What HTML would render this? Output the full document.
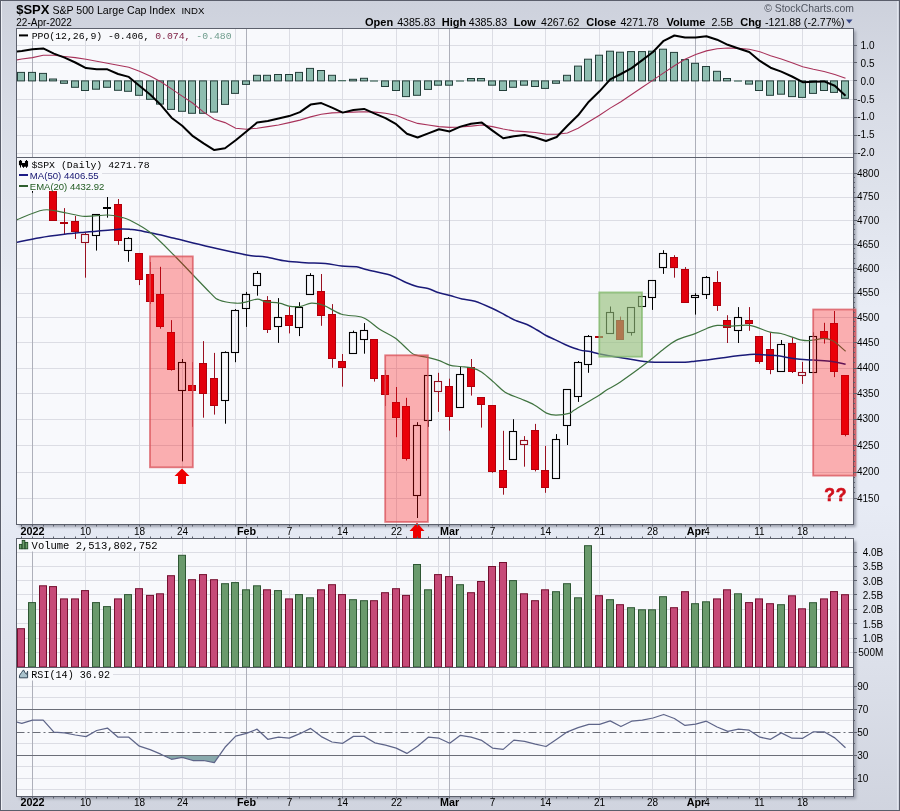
<!DOCTYPE html>
<html><head><meta charset="utf-8"><title>$SPX</title>
<style>html,body{margin:0;padding:0;background:#d6d9e3}svg{display:block;will-change:transform;font-family:"Liberation Sans",sans-serif}text{white-space:pre}</style>
</head><body>
<svg width="900" height="811" viewBox="0 0 900 811" shape-rendering="auto">
<defs>
<filter id="sh" x="-5%" y="-5%" width="110%" height="110%"><feGaussianBlur stdDeviation="1.6"/></filter>
<clipPath id="cppo"><rect x="17" y="29" width="836" height="128"/></clipPath>
<clipPath id="cpr"><rect x="17" y="158" width="836" height="366"/></clipPath>
<clipPath id="cvol"><rect x="17" y="539" width="836" height="128"/></clipPath>
<clipPath id="crsi"><rect x="17" y="668" width="836" height="128"/></clipPath>
<linearGradient id="bgg" x1="0" y1="0" x2="0" y2="1"><stop offset="0" stop-color="#cdd1dc"/><stop offset="0.13" stop-color="#d8dce6"/><stop offset="0.25" stop-color="#dfe3ec"/><stop offset="0.38" stop-color="#e8ecf5"/><stop offset="0.62" stop-color="#e7ebf5"/><stop offset="0.82" stop-color="#dce0ea"/><stop offset="1" stop-color="#d0d4df"/></linearGradient>
</defs>
<rect x="0" y="0" width="900" height="811" fill="url(#bgg)"/>
<rect x="0.5" y="0.5" width="899" height="810" fill="none" stroke="#5a5e6b" stroke-width="1"/>
<line x1="1.5" y1="1" x2="1.5" y2="810" stroke="#eef0f6" stroke-width="1"/>
<line x1="897.5" y1="1" x2="897.5" y2="810" stroke="#eef1f8" stroke-width="1" stroke-opacity="0.6"/>
<rect x="19.0" y="31.0" width="837.0" height="496.0" fill="#9da1ae" filter="url(#sh)"/>
<rect x="19.0" y="541.0" width="837.0" height="258.0" fill="#9da1ae" filter="url(#sh)"/>
<rect x="16.5" y="28.5" width="837.0" height="496.0" fill="#f8f9fc"/>
<rect x="16.5" y="538.5" width="837.0" height="258.0" fill="#f8f9fc"/>
<path d="M85.5 28.5V524.5M85.5 538.5V796.5M139.5 28.5V524.5M139.5 538.5V796.5M182.5 28.5V524.5M182.5 538.5V796.5M235.5 28.5V524.5M235.5 538.5V796.5M289.5 28.5V524.5M289.5 538.5V796.5M342.5 28.5V524.5M342.5 538.5V796.5M396.5 28.5V524.5M396.5 538.5V796.5M438.5 28.5V524.5M438.5 538.5V796.5M492.5 28.5V524.5M492.5 538.5V796.5M545.5 28.5V524.5M545.5 538.5V796.5M599.5 28.5V524.5M599.5 538.5V796.5M652.5 28.5V524.5M652.5 538.5V796.5M706.5 28.5V524.5M706.5 538.5V796.5M759.5 28.5V524.5M759.5 538.5V796.5M802.5 28.5V524.5M802.5 538.5V796.5M16.5 45.5H853.5M16.5 62.5H853.5M16.5 80.5H853.5M16.5 99.5H853.5M16.5 117.5H853.5M16.5 135.5H853.5M16.5 153.5H853.5M16.5 173.5H853.5M16.5 197.5H853.5M16.5 220.5H853.5M16.5 244.5H853.5M16.5 268.5H853.5M16.5 293.5H853.5M16.5 317.5H853.5M16.5 342.5H853.5M16.5 368.5H853.5M16.5 393.5H853.5M16.5 419.5H853.5M16.5 445.5H853.5M16.5 472.5H853.5M16.5 498.5H853.5M16.5 552.5H853.5M16.5 566.5H853.5M16.5 580.5H853.5M16.5 594.5H853.5M16.5 609.5H853.5M16.5 623.5H853.5M16.5 638.5H853.5M16.5 652.5H853.5M16.5 789.5H853.5M16.5 778.5H853.5M16.5 766.5H853.5M16.5 743.5H853.5M16.5 720.5H853.5M16.5 697.5H853.5M16.5 686.5H853.5M16.5 674.5H853.5" stroke="#dcdde4" stroke-width="1" fill="none"/>
<path d="M32.5 28.5V524.5M32.5 538.5V796.5M246.5 28.5V524.5M246.5 538.5V796.5M449.5 28.5V524.5M449.5 538.5V796.5M695.5 28.5V524.5M695.5 538.5V796.5" stroke="#aeb0ba" stroke-width="1" fill="none"/>
<g clip-path="url(#cppo)">
<g fill="#8ebdb0" stroke="#243f3a" stroke-width="1"><rect x="17.5" y="72.4" width="7" height="8.5"/><rect x="28.5" y="72.4" width="7" height="8.5"/><rect x="39.5" y="73.4" width="7" height="7.5"/><rect x="49.5" y="79.0" width="7" height="1.9"/><rect x="60.5" y="80.9" width="7" height="2.4"/><rect x="71.5" y="80.9" width="7" height="6.4"/><rect x="81.5" y="80.9" width="7" height="9.6"/><rect x="92.5" y="80.9" width="7" height="8.3"/><rect x="103.5" y="80.9" width="7" height="6.4"/><rect x="114.5" y="80.9" width="7" height="9.4"/><rect x="124.5" y="80.9" width="7" height="10.4"/><rect x="135.5" y="80.9" width="7" height="14.4"/><rect x="146.5" y="80.9" width="7" height="18.4"/><rect x="156.5" y="80.9" width="7" height="23.2"/><rect x="167.5" y="80.9" width="7" height="28.5"/><rect x="178.5" y="80.9" width="7" height="30.4"/><rect x="188.5" y="80.9" width="7" height="32.4"/><rect x="199.5" y="80.9" width="7" height="32.4"/><rect x="210.5" y="80.9" width="7" height="31.2"/><rect x="221.5" y="80.9" width="7" height="23.5"/><rect x="231.5" y="80.9" width="7" height="12.5"/><rect x="242.5" y="80.9" width="7" height="3.5"/><rect x="253.5" y="75.3" width="7" height="5.6"/><rect x="263.5" y="75.3" width="7" height="5.6"/><rect x="274.5" y="74.5" width="7" height="6.4"/><rect x="285.5" y="74.5" width="7" height="6.4"/><rect x="295.5" y="72.4" width="7" height="8.5"/><rect x="306.5" y="68.4" width="7" height="12.5"/><rect x="317.5" y="70.5" width="7" height="10.4"/><rect x="328.5" y="75.3" width="7" height="5.6"/><rect x="338" y="80.1" width="8" height="1.2" fill="#3e6458" stroke="none"/><rect x="349.5" y="79.3" width="7" height="1.6"/><rect x="360.5" y="78.3" width="7" height="2.6"/><rect x="370" y="80.4" width="8" height="1.2" fill="#3e6458" stroke="none"/><rect x="381.5" y="80.9" width="7" height="5.6"/><rect x="392.5" y="80.9" width="7" height="9.6"/><rect x="402.5" y="80.9" width="7" height="15.7"/><rect x="413.5" y="80.9" width="7" height="14.4"/><rect x="424.5" y="80.9" width="7" height="8.5"/><rect x="434.5" y="80.9" width="7" height="4.3"/><rect x="445.5" y="80.9" width="7" height="4.3"/><rect x="456" y="80.4" width="8" height="1.2" fill="#3e6458" stroke="none"/><rect x="467.5" y="78.5" width="7" height="2.4"/><rect x="477.5" y="78.5" width="7" height="2.4"/><rect x="488.5" y="80.9" width="7" height="4.3"/><rect x="499.5" y="80.9" width="7" height="9.6"/><rect x="509.5" y="80.9" width="7" height="6.4"/><rect x="520.5" y="80.9" width="7" height="4.3"/><rect x="531.5" y="80.9" width="7" height="5.6"/><rect x="541.5" y="80.9" width="7" height="7.5"/><rect x="552.5" y="80.9" width="7" height="2.4"/><rect x="563.5" y="75.3" width="7" height="5.6"/><rect x="574.5" y="66.1" width="7" height="14.8"/><rect x="584.5" y="59.2" width="7" height="21.7"/><rect x="595.5" y="55.2" width="7" height="25.7"/><rect x="606.5" y="51.2" width="7" height="29.7"/><rect x="616.5" y="52.2" width="7" height="28.7"/><rect x="627.5" y="51.6" width="7" height="29.3"/><rect x="638.5" y="51.6" width="7" height="29.3"/><rect x="648.5" y="51.2" width="7" height="29.7"/><rect x="659.5" y="49.2" width="7" height="31.7"/><rect x="670.5" y="52.4" width="7" height="28.5"/><rect x="681.5" y="59.6" width="7" height="21.3"/><rect x="691.5" y="63.3" width="7" height="17.6"/><rect x="702.5" y="66.5" width="7" height="14.4"/><rect x="713.5" y="71.3" width="7" height="9.6"/><rect x="723.5" y="78.5" width="7" height="2.4"/><rect x="734" y="80.4" width="8" height="1.2" fill="#3e6458" stroke="none"/><rect x="745.5" y="80.9" width="7" height="3.2"/><rect x="755.5" y="80.9" width="7" height="9.6"/><rect x="766.5" y="80.9" width="7" height="14.4"/><rect x="777.5" y="80.9" width="7" height="13.3"/><rect x="788.5" y="80.9" width="7" height="15.7"/><rect x="798.5" y="80.9" width="7" height="16.5"/><rect x="809.5" y="80.9" width="7" height="12.5"/><rect x="820.5" y="80.9" width="7" height="9.6"/><rect x="830.5" y="80.9" width="7" height="11.5"/><rect x="841.5" y="80.9" width="7" height="17.4"/></g>
<polyline fill="none" stroke="#a8325a" stroke-width="1.1" points="16.0,60.0 21.8,59.0 32.5,57.6 43.2,55.2 53.9,55.2 64.6,56.5 75.3,57.6 86.0,59.3 96.7,61.2 107.4,63.3 118.1,65.2 128.8,67.3 139.4,71.3 150.1,76.1 160.8,81.7 171.5,88.9 182.2,96.1 192.9,103.3 203.6,112.1 214.3,119.3 225.0,122.6 235.7,128.2 246.4,129.3 257.1,128.2 267.8,126.6 278.5,125.0 289.2,122.6 299.9,120.1 310.6,116.9 321.3,114.3 332.0,112.9 342.7,112.5 353.4,112.1 364.1,111.8 374.8,112.1 385.5,113.3 396.2,115.3 406.9,119.7 417.6,123.4 428.3,125.0 439.0,126.6 449.7,127.4 460.4,127.0 471.1,126.1 481.8,125.0 492.5,126.6 503.2,129.0 513.9,130.9 524.6,131.6 535.3,132.5 546.0,134.1 556.7,134.3 567.4,133.0 578.1,128.2 588.8,121.8 599.5,115.3 610.2,108.1 620.9,101.7 631.6,94.5 642.3,87.3 653.0,80.1 663.7,72.9 674.4,65.7 685.0,59.3 695.7,54.4 706.4,50.9 717.1,48.8 727.8,48.0 738.5,48.4 749.2,49.3 759.9,51.7 770.6,55.7 781.3,58.9 792.0,62.7 802.7,66.7 813.4,69.3 824.1,71.5 834.8,74.5 845.5,78.2"/>
<polyline fill="none" stroke="#000" stroke-width="2" stroke-linejoin="round" points="16.0,51.5 21.8,51.0 32.5,49.3 43.2,48.4 53.9,53.6 64.6,57.6 75.3,62.5 86.0,68.1 96.7,69.2 107.4,69.3 118.1,74.0 128.8,76.9 139.4,85.7 150.1,94.5 160.8,104.9 171.5,117.7 182.2,125.8 192.9,136.2 203.6,143.4 214.3,150.1 225.0,148.2 235.7,140.2 246.4,131.4 257.1,122.6 267.8,121.0 278.5,118.5 289.2,116.1 299.9,112.1 310.6,104.6 321.3,103.1 332.0,107.6 342.7,112.6 353.4,110.0 364.1,108.9 374.8,113.7 385.5,118.2 396.2,124.2 406.9,133.8 417.6,137.5 428.3,133.4 439.0,129.3 449.7,131.4 460.4,126.6 471.1,123.7 481.8,122.6 492.5,130.6 503.2,138.3 513.9,136.2 524.6,135.0 535.3,137.5 546.0,141.0 556.7,137.0 567.4,125.8 578.1,115.3 588.8,101.7 599.5,91.3 610.2,79.3 620.9,74.0 631.6,68.1 642.3,60.1 653.0,52.0 663.7,40.8 674.4,35.5 685.0,37.6 695.7,37.6 706.4,36.3 717.1,39.7 727.8,44.8 738.5,48.5 749.2,52.0 759.9,60.9 770.6,67.7 781.3,71.6 792.0,76.5 802.7,82.2 813.4,81.7 824.1,81.4 834.8,85.7 845.5,95.8"/>
</g>
<g clip-path="url(#cpr)">
<path d="M32.5 184V192.8" stroke="#000" stroke-width="1"/><rect x="28.5" y="174.5" width="7" height="9" fill="none" stroke="#000" stroke-width="1.1"/><path d="M43.5 164.4V171M43.5 176V185.0" stroke="#9a1020" stroke-width="1"/><rect x="39.5" y="171.5" width="7" height="4" fill="#e2000c" stroke="#b0000c" stroke-width="1"/><path d="M53.5 174.1V178" stroke="#9a1020" stroke-width="1"/><rect x="49.5" y="178.5" width="7" height="42" fill="#e2000c" stroke="#b0000c" stroke-width="1"/><path d="M64.5 208.1V222M64.5 224V234.3" stroke="#9a1020" stroke-width="1"/><rect x="60.5" y="222.5" width="7" height="1" fill="#e2000c" stroke="#b0000c" stroke-width="1"/><path d="M75.5 216.0V221M75.5 232V239.0" stroke="#9a1020" stroke-width="1"/><rect x="71.5" y="221.5" width="7" height="10" fill="#e2000c" stroke="#b0000c" stroke-width="1"/><path d="M85.5 233.0V234M85.5 243V277.7" stroke="#9a1020" stroke-width="1"/><rect x="81.5" y="234.5" width="7" height="8" fill="none" stroke="#941020" stroke-width="1.1"/><path d="M96.5 236V250.6" stroke="#000" stroke-width="1"/><rect x="92.5" y="214.5" width="7" height="21" fill="none" stroke="#000" stroke-width="1.1"/><path d="M107.5 197.0V207M107.5 209V217.7" stroke="#000" stroke-width="1"/><rect x="103.5" y="207.5" width="7" height="1" fill="#000" stroke="#000" stroke-width="1"/><path d="M118.5 199.0V204M118.5 241V244.9" stroke="#9a1020" stroke-width="1"/><rect x="114.5" y="204.5" width="7" height="36" fill="#e2000c" stroke="#b0000c" stroke-width="1"/><path d="M128.5 237.0V238M128.5 251V261.8" stroke="#000" stroke-width="1"/><rect x="124.5" y="238.5" width="7" height="12" fill="none" stroke="#000" stroke-width="1.1"/><path d="M139.5 280V285.1" stroke="#9a1020" stroke-width="1"/><rect x="135.5" y="253.5" width="7" height="26" fill="#e2000c" stroke="#b0000c" stroke-width="1"/><path d="M150.5 262.0V274M150.5 302V304.0" stroke="#9a1020" stroke-width="1"/><rect x="146.5" y="274.5" width="7" height="27" fill="#e2000c" stroke="#b0000c" stroke-width="1"/><path d="M160.5 266.8V294M160.5 327V328.7" stroke="#9a1020" stroke-width="1"/><rect x="156.5" y="294.5" width="7" height="32" fill="#e2000c" stroke="#b0000c" stroke-width="1"/><path d="M171.5 320.1V332M171.5 370V370.6" stroke="#9a1020" stroke-width="1"/><rect x="167.5" y="332.5" width="7" height="37" fill="#e2000c" stroke="#b0000c" stroke-width="1"/><path d="M182.5 359.0V362M182.5 391V461.4" stroke="#000" stroke-width="1"/><rect x="178.5" y="362.5" width="7" height="28" fill="none" stroke="#000" stroke-width="1.1"/><path d="M192.5 362.1V385M192.5 391V426.8" stroke="#9a1020" stroke-width="1"/><rect x="188.5" y="385.5" width="7" height="5" fill="#e2000c" stroke="#b0000c" stroke-width="1"/><path d="M203.5 341.1V363M203.5 394V417.7" stroke="#9a1020" stroke-width="1"/><rect x="199.5" y="363.5" width="7" height="30" fill="#e2000c" stroke="#b0000c" stroke-width="1"/><path d="M214.5 352.9V378M214.5 406V414.6" stroke="#9a1020" stroke-width="1"/><rect x="210.5" y="378.5" width="7" height="27" fill="#e2000c" stroke="#b0000c" stroke-width="1"/><path d="M225.5 351.3V352M225.5 401V423.7" stroke="#000" stroke-width="1"/><rect x="221.5" y="352.5" width="7" height="48" fill="none" stroke="#000" stroke-width="1.1"/><path d="M235.5 309.0V310M235.5 353V362.2" stroke="#000" stroke-width="1"/><rect x="231.5" y="310.5" width="7" height="42" fill="none" stroke="#000" stroke-width="1.1"/><path d="M246.5 291.9V294M246.5 309V326.9" stroke="#000" stroke-width="1"/><rect x="242.5" y="294.5" width="7" height="14" fill="none" stroke="#000" stroke-width="1.1"/><path d="M257.5 271.0V273M257.5 286V295.7" stroke="#000" stroke-width="1"/><rect x="253.5" y="273.5" width="7" height="12" fill="none" stroke="#000" stroke-width="1.1"/><path d="M267.5 296.1V300M267.5 330V333.0" stroke="#9a1020" stroke-width="1"/><rect x="263.5" y="300.5" width="7" height="29" fill="#e2000c" stroke="#b0000c" stroke-width="1"/><path d="M278.5 298.1V317M278.5 327V342.9" stroke="#000" stroke-width="1"/><rect x="274.5" y="317.5" width="7" height="9" fill="none" stroke="#000" stroke-width="1.1"/><path d="M289.5 306.6V315M289.5 326V333.4" stroke="#9a1020" stroke-width="1"/><rect x="285.5" y="315.5" width="7" height="10" fill="#e2000c" stroke="#b0000c" stroke-width="1"/><path d="M299.5 302.2V307M299.5 328V336.1" stroke="#000" stroke-width="1"/><rect x="295.5" y="307.5" width="7" height="20" fill="none" stroke="#000" stroke-width="1.1"/><path d="M310.5 273.2V275" stroke="#000" stroke-width="1"/><rect x="306.5" y="275.5" width="7" height="19" fill="none" stroke="#000" stroke-width="1.1"/><path d="M321.5 274.0V291M321.5 316V325.8" stroke="#9a1020" stroke-width="1"/><rect x="317.5" y="291.5" width="7" height="24" fill="#e2000c" stroke="#b0000c" stroke-width="1"/><path d="M332.5 304.1V314M332.5 359V367.8" stroke="#9a1020" stroke-width="1"/><rect x="328.5" y="314.5" width="7" height="44" fill="#e2000c" stroke="#b0000c" stroke-width="1"/><path d="M342.5 354.0V361M342.5 368V386.7" stroke="#9a1020" stroke-width="1"/><rect x="338.5" y="361.5" width="7" height="6" fill="#e2000c" stroke="#b0000c" stroke-width="1"/><path d="M353.5 330.6V332" stroke="#000" stroke-width="1"/><rect x="349.5" y="332.5" width="7" height="21" fill="none" stroke="#000" stroke-width="1.1"/><path d="M364.5 323.1V330M364.5 340V353.7" stroke="#000" stroke-width="1"/><rect x="360.5" y="330.5" width="7" height="9" fill="none" stroke="#000" stroke-width="1.1"/><path d="M374.5 379V381.6" stroke="#9a1020" stroke-width="1"/><rect x="370.5" y="339.5" width="7" height="39" fill="#e2000c" stroke="#b0000c" stroke-width="1"/><path d="M385.5 370.0V375M385.5 395V406.0" stroke="#9a1020" stroke-width="1"/><rect x="381.5" y="375.5" width="7" height="19" fill="#e2000c" stroke="#b0000c" stroke-width="1"/><path d="M396.5 387.0V402M396.5 418V437.2" stroke="#9a1020" stroke-width="1"/><rect x="392.5" y="402.5" width="7" height="15" fill="#e2000c" stroke="#b0000c" stroke-width="1"/><path d="M406.5 397.8V406M406.5 459V460.5" stroke="#9a1020" stroke-width="1"/><rect x="402.5" y="406.5" width="7" height="52" fill="#e2000c" stroke="#b0000c" stroke-width="1"/><path d="M417.5 422.2V425M417.5 496V518.0" stroke="#000" stroke-width="1"/><rect x="413.5" y="425.5" width="7" height="70" fill="none" stroke="#000" stroke-width="1.1"/><path d="M428.5 421V426.9" stroke="#000" stroke-width="1"/><rect x="424.5" y="375.5" width="7" height="45" fill="none" stroke="#000" stroke-width="1.1"/><path d="M438.5 372.8V381M438.5 392V411.9" stroke="#9a1020" stroke-width="1"/><rect x="434.5" y="381.5" width="7" height="10" fill="none" stroke="#941020" stroke-width="1.1"/><path d="M449.5 378.7V386M449.5 417V430.6" stroke="#9a1020" stroke-width="1"/><rect x="445.5" y="386.5" width="7" height="30" fill="#e2000c" stroke="#b0000c" stroke-width="1"/><path d="M460.5 366.5V374" stroke="#000" stroke-width="1"/><rect x="456.5" y="374.5" width="7" height="33" fill="none" stroke="#000" stroke-width="1.1"/><path d="M471.5 359.0V367M471.5 387V395.6" stroke="#9a1020" stroke-width="1"/><rect x="467.5" y="367.5" width="7" height="19" fill="#e2000c" stroke="#b0000c" stroke-width="1"/><path d="M481.5 405V427.6" stroke="#9a1020" stroke-width="1"/><rect x="477.5" y="397.5" width="7" height="7" fill="#e2000c" stroke="#b0000c" stroke-width="1"/><path d="M492.5 472V472.8" stroke="#9a1020" stroke-width="1"/><rect x="488.5" y="405.5" width="7" height="66" fill="#e2000c" stroke="#b0000c" stroke-width="1"/><path d="M503.5 430.8V470M503.5 488V494.7" stroke="#9a1020" stroke-width="1"/><rect x="499.5" y="470.5" width="7" height="17" fill="#e2000c" stroke="#b0000c" stroke-width="1"/><path d="M513.5 419.2V431" stroke="#000" stroke-width="1"/><rect x="509.5" y="431.5" width="7" height="28" fill="none" stroke="#000" stroke-width="1.1"/><path d="M524.5 436.1V440M524.5 445V466.7" stroke="#9a1020" stroke-width="1"/><rect x="520.5" y="440.5" width="7" height="4" fill="none" stroke="#941020" stroke-width="1.1"/><path d="M535.5 423.9V430M535.5 470V471.4" stroke="#9a1020" stroke-width="1"/><rect x="531.5" y="430.5" width="7" height="39" fill="#e2000c" stroke="#b0000c" stroke-width="1"/><path d="M545.5 445.9V470M545.5 488V492.8" stroke="#9a1020" stroke-width="1"/><rect x="541.5" y="470.5" width="7" height="17" fill="#e2000c" stroke="#b0000c" stroke-width="1"/><path d="M556.5 434.1V439" stroke="#000" stroke-width="1"/><rect x="552.5" y="439.5" width="7" height="39" fill="none" stroke="#000" stroke-width="1.1"/><path d="M567.5 426V445.0" stroke="#000" stroke-width="1"/><rect x="563.5" y="389.5" width="7" height="36" fill="none" stroke="#000" stroke-width="1.1"/><path d="M578.5 361.0V362M578.5 397V401.9" stroke="#000" stroke-width="1"/><rect x="574.5" y="362.5" width="7" height="34" fill="none" stroke="#000" stroke-width="1.1"/><path d="M588.5 335.0V336M588.5 365V372.8" stroke="#000" stroke-width="1"/><rect x="584.5" y="336.5" width="7" height="28" fill="none" stroke="#000" stroke-width="1.1"/><rect x="595.5" y="336.5" width="7" height="1" fill="#e2000c" stroke="#b0000c" stroke-width="1"/><path d="M610.5 306.5V312" stroke="#000" stroke-width="1"/><rect x="606.5" y="312.5" width="7" height="21" fill="none" stroke="#000" stroke-width="1.1"/><path d="M620.5 316.6V320" stroke="#9a1020" stroke-width="1"/><rect x="616.5" y="320.5" width="7" height="19" fill="#e2000c" stroke="#b0000c" stroke-width="1"/><path d="M631.5 333V335.6" stroke="#000" stroke-width="1"/><rect x="627.5" y="307.5" width="7" height="25" fill="none" stroke="#000" stroke-width="1.1"/><rect x="638.5" y="296.5" width="7" height="10" fill="none" stroke="#000" stroke-width="1.1"/><path d="M652.5 298V309.9" stroke="#000" stroke-width="1"/><rect x="648.5" y="280.5" width="7" height="17" fill="none" stroke="#000" stroke-width="1.1"/><path d="M663.5 250.2V253M663.5 268V273.9" stroke="#000" stroke-width="1"/><rect x="659.5" y="253.5" width="7" height="14" fill="none" stroke="#000" stroke-width="1.1"/><path d="M674.5 255.2V257M674.5 268V277.7" stroke="#9a1020" stroke-width="1"/><rect x="670.5" y="257.5" width="7" height="10" fill="#e2000c" stroke="#b0000c" stroke-width="1"/><path d="M685.5 267.1V269" stroke="#9a1020" stroke-width="1"/><rect x="681.5" y="269.5" width="7" height="33" fill="#e2000c" stroke="#b0000c" stroke-width="1"/><path d="M695.5 293.2V295M695.5 298V314.6" stroke="#000" stroke-width="1"/><rect x="691.5" y="295.5" width="7" height="2" fill="none" stroke="#000" stroke-width="1.1"/><path d="M706.5 276.0V277M706.5 295V299.0" stroke="#000" stroke-width="1"/><rect x="702.5" y="277.5" width="7" height="17" fill="none" stroke="#000" stroke-width="1.1"/><path d="M717.5 271.1V282M717.5 306V310.9" stroke="#9a1020" stroke-width="1"/><rect x="713.5" y="282.5" width="7" height="23" fill="#e2000c" stroke="#b0000c" stroke-width="1"/><path d="M727.5 315.2V320M727.5 328V343.0" stroke="#9a1020" stroke-width="1"/><rect x="723.5" y="320.5" width="7" height="7" fill="#e2000c" stroke="#b0000c" stroke-width="1"/><path d="M738.5 307.1V317M738.5 331V343.0" stroke="#000" stroke-width="1"/><rect x="734.5" y="317.5" width="7" height="13" fill="none" stroke="#000" stroke-width="1.1"/><path d="M749.5 307.1V320M749.5 324V330.8" stroke="#9a1020" stroke-width="1"/><rect x="745.5" y="320.5" width="7" height="3" fill="#e2000c" stroke="#b0000c" stroke-width="1"/><path d="M759.5 362V363.8" stroke="#9a1020" stroke-width="1"/><rect x="755.5" y="336.5" width="7" height="25" fill="#e2000c" stroke="#b0000c" stroke-width="1"/><path d="M770.5 332.6V349M770.5 370V374.2" stroke="#9a1020" stroke-width="1"/><rect x="766.5" y="349.5" width="7" height="20" fill="#e2000c" stroke="#b0000c" stroke-width="1"/><path d="M781.5 340.0V344" stroke="#000" stroke-width="1"/><rect x="777.5" y="344.5" width="7" height="27" fill="none" stroke="#000" stroke-width="1.1"/><path d="M792.5 337.7V343M792.5 372V373.0" stroke="#9a1020" stroke-width="1"/><rect x="788.5" y="343.5" width="7" height="28" fill="#e2000c" stroke="#b0000c" stroke-width="1"/><path d="M802.5 361.9V372M802.5 376V383.9" stroke="#9a1020" stroke-width="1"/><rect x="798.5" y="372.5" width="7" height="3" fill="none" stroke="#941020" stroke-width="1.1"/><path d="M813.5 332.3V336" stroke="#000" stroke-width="1"/><rect x="809.5" y="336.5" width="7" height="36" fill="none" stroke="#000" stroke-width="1.1"/><path d="M824.5 322.8V331M824.5 339V343.6" stroke="#9a1020" stroke-width="1"/><rect x="820.5" y="331.5" width="7" height="7" fill="#e2000c" stroke="#b0000c" stroke-width="1"/><path d="M834.5 311.0V323M834.5 372V377.1" stroke="#9a1020" stroke-width="1"/><rect x="830.5" y="323.5" width="7" height="48" fill="#e2000c" stroke="#b0000c" stroke-width="1"/><path d="M845.5 435V436.3" stroke="#9a1020" stroke-width="1"/><rect x="841.5" y="375.5" width="7" height="59" fill="#e2000c" stroke="#b0000c" stroke-width="1"/>
<path fill="none" stroke="#1a1a78" stroke-width="1.5" d="M16.6 242.4C20.5 241.6 32.0 239.0 40.0 237.7C48.0 236.3 56.9 235.2 64.4 234.3C71.9 233.4 77.6 232.9 84.8 232.2C92.0 231.5 101.7 230.7 107.8 230.2C113.9 229.7 117.7 229.2 121.4 229.1C125.1 229.0 127.4 229.2 130.1 229.4C132.8 229.6 133.6 229.5 137.6 230.2C141.6 230.9 147.8 232.2 153.9 233.6C160.0 234.9 165.0 236.1 174.3 238.3C183.7 240.6 197.9 244.3 210.0 247.1C222.1 249.9 237.4 253.3 246.7 255.0C256.0 256.6 259.1 256.0 265.7 257.0C272.2 258.0 279.4 260.2 286.0 261.1C292.6 262.1 298.4 262.3 305.0 262.7C311.6 263.1 319.3 262.8 325.4 263.4C331.5 264.0 336.4 265.5 341.6 266.1C346.8 266.7 352.5 266.2 356.6 266.8C360.7 267.4 360.4 268.1 366.0 269.5C371.6 270.9 383.3 272.8 390.0 275.0C396.7 277.2 401.5 280.6 406.0 282.5C410.5 284.4 413.3 285.5 417.0 286.5C420.7 287.5 424.5 287.5 428.0 288.5C431.5 289.5 434.3 291.3 438.0 292.5C441.7 293.7 446.0 294.4 450.0 295.5C454.0 296.6 457.8 298.1 462.0 299.0C466.2 299.9 469.9 299.6 475.0 301.2C480.1 302.8 487.5 306.2 492.5 308.5C497.5 310.8 500.9 312.9 505.0 315.0C509.1 317.1 513.3 319.4 517.0 321.0C520.7 322.6 523.7 323.0 527.0 324.5C530.3 326.0 533.8 328.2 537.0 330.0C540.2 331.8 543.0 333.9 546.0 335.5C549.0 337.1 551.8 338.1 555.0 339.6C558.2 341.1 560.9 342.8 565.0 344.5C569.1 346.2 575.2 348.7 579.4 349.9C583.6 351.1 586.6 350.9 590.0 351.6C593.4 352.3 594.3 352.8 599.8 353.9C605.3 355.0 616.9 357.0 622.8 358.0C628.7 359.0 630.5 359.3 635.0 360.0C639.5 360.7 645.0 361.6 650.0 362.0C655.0 362.4 659.2 362.3 665.0 362.3C670.8 362.3 680.0 362.4 685.0 362.2C690.0 362.0 691.3 361.6 695.0 361.2C698.7 360.8 701.9 360.6 707.0 360.0C712.1 359.4 718.3 358.3 725.4 357.4C732.5 356.5 744.1 355.1 749.8 354.6C755.4 354.1 755.0 354.4 759.3 354.6C763.6 354.8 769.6 354.9 775.6 355.6C781.6 356.3 789.0 357.9 795.2 358.7C801.4 359.4 806.9 359.6 813.0 360.1C819.1 360.6 826.6 360.8 832.0 361.5C837.4 362.2 843.3 363.8 845.6 364.2"/>
<path fill="none" stroke="#3f733f" stroke-width="1.2" d="M16.6 219.9C21.1 218.2 35.4 211.2 43.4 210.0C51.4 208.8 57.5 211.5 64.4 212.6C71.3 213.7 77.6 216.0 84.8 216.4C92.0 216.8 101.4 214.8 107.5 215.0C113.6 215.2 117.7 216.4 121.4 217.3C125.2 218.2 125.2 217.8 130.0 220.3C134.8 222.8 142.6 226.4 150.0 232.3C157.4 238.2 164.3 245.4 174.3 255.5C184.3 265.6 202.6 285.2 210.0 292.6C217.4 300.0 214.7 298.2 219.0 300.0C223.3 301.8 231.3 302.9 235.9 303.2C240.5 303.5 243.1 302.5 246.7 301.8C250.3 301.1 254.4 299.1 257.6 299.1C260.8 299.1 262.1 301.1 265.7 301.8C269.3 302.5 275.2 302.4 279.3 303.2C283.4 303.9 286.5 305.8 290.1 306.3C293.7 306.8 297.4 306.8 301.0 306.3C304.6 305.8 307.7 303.2 311.5 303.1C315.3 303.0 319.0 303.6 324.0 305.5C329.0 307.4 335.1 312.3 341.6 314.3C348.2 316.3 357.0 315.2 363.3 317.7C369.6 320.2 374.3 325.8 379.6 329.2C384.9 332.6 390.2 334.5 395.1 338.0C400.0 341.5 405.4 347.6 408.7 350.4C412.0 353.2 411.7 353.7 415.0 354.9C418.3 356.1 424.7 356.7 428.6 357.6C432.6 358.5 435.2 359.1 438.7 360.4C442.2 361.6 446.0 364.1 449.6 365.1C453.2 366.1 456.8 366.1 460.5 366.5C464.2 366.9 468.5 366.9 472.0 367.8C475.5 368.7 477.9 369.5 481.5 371.9C485.1 374.3 489.8 378.7 493.7 382.1C497.6 385.5 500.6 389.4 505.1 392.2C509.6 395.0 515.8 396.7 520.7 398.8C525.6 400.9 530.0 402.5 534.3 404.9C538.6 407.3 542.9 411.4 546.5 413.1C550.1 414.8 552.1 415.1 556.0 415.1C559.9 415.1 567.0 414.0 570.1 413.1C573.2 412.2 569.6 412.9 574.4 410.0C579.2 407.1 593.4 398.8 598.8 395.5C604.2 392.2 603.1 392.2 606.6 390.0C610.1 387.8 613.6 386.5 620.0 382.2C626.4 377.9 638.0 369.5 645.1 364.1C652.2 358.7 657.4 353.9 662.6 350.0C667.8 346.1 670.7 343.1 676.1 340.4C681.5 337.7 689.9 335.6 695.1 333.6C700.3 331.6 703.6 329.6 707.3 328.2C711.0 326.8 713.1 325.8 717.2 325.4C721.3 325.0 726.7 326.1 732.1 326.1C737.5 326.1 743.5 324.4 749.8 325.4C756.1 326.4 764.9 330.8 770.1 332.2C775.3 333.6 775.7 332.2 781.0 333.5C786.3 334.8 796.8 339.1 802.1 340.2C807.4 341.3 809.4 340.5 813.0 340.2C816.6 339.9 820.4 338.2 823.8 338.4C827.2 338.5 829.7 339.0 833.3 341.1C836.9 343.2 843.5 349.6 845.6 351.3"/>
</g>
<path d="M182.0 468.5L189.5 476.0H186.0V484.0H178.0V476.0H174.5Z" fill="#ee0000"/>
<path d="M417.0 522.8L424.5 531.0H421.0V538.5H413.0V531.0H409.5Z" fill="#ee0000"/>
<text x="824.3" y="500.8" font-family="Liberation Sans" font-weight="bold" font-size="17.5" fill="#d0101c" letter-spacing="0.7" stroke="#d0101c" stroke-width="0.6">??</text>
<g clip-path="url(#cvol)">
<g fill="#c64a78" stroke="#74102f" stroke-width="1"><rect x="17.5" y="628.7" width="7" height="38.3"/><rect x="39.5" y="585.8" width="7" height="81.2"/><rect x="49.5" y="586.6" width="7" height="80.4"/><rect x="60.5" y="598.9" width="7" height="68.1"/><rect x="71.5" y="598.9" width="7" height="68.1"/><rect x="81.5" y="590.6" width="7" height="76.4"/><rect x="114.5" y="598.9" width="7" height="68.1"/><rect x="135.5" y="588.7" width="7" height="78.3"/><rect x="146.5" y="595.4" width="7" height="71.6"/><rect x="156.5" y="593.8" width="7" height="73.2"/><rect x="167.5" y="575.7" width="7" height="91.3"/><rect x="188.5" y="579.7" width="7" height="87.3"/><rect x="199.5" y="574.6" width="7" height="92.4"/><rect x="210.5" y="579.7" width="7" height="87.3"/><rect x="263.5" y="589.8" width="7" height="77.2"/><rect x="285.5" y="598.9" width="7" height="68.1"/><rect x="317.5" y="589.8" width="7" height="77.2"/><rect x="328.5" y="584.7" width="7" height="82.3"/><rect x="338.5" y="594.6" width="7" height="72.4"/><rect x="370.5" y="600.7" width="7" height="66.3"/><rect x="381.5" y="592.7" width="7" height="74.3"/><rect x="392.5" y="588.7" width="7" height="78.3"/><rect x="402.5" y="595.4" width="7" height="71.6"/><rect x="434.5" y="574.6" width="7" height="92.4"/><rect x="445.5" y="576.6" width="7" height="90.4"/><rect x="467.5" y="592.7" width="7" height="74.3"/><rect x="477.5" y="581.5" width="7" height="85.5"/><rect x="488.5" y="566.5" width="7" height="100.5"/><rect x="499.5" y="562.5" width="7" height="104.5"/><rect x="520.5" y="593.8" width="7" height="73.2"/><rect x="531.5" y="600.7" width="7" height="66.3"/><rect x="541.5" y="589.8" width="7" height="77.2"/><rect x="595.5" y="595.7" width="7" height="71.3"/><rect x="616.5" y="604.7" width="7" height="62.3"/><rect x="670.5" y="607.7" width="7" height="59.3"/><rect x="681.5" y="591.7" width="7" height="75.3"/><rect x="713.5" y="598.9" width="7" height="68.1"/><rect x="723.5" y="589.8" width="7" height="77.2"/><rect x="745.5" y="602.6" width="7" height="64.4"/><rect x="755.5" y="598.9" width="7" height="68.1"/><rect x="766.5" y="603.7" width="7" height="63.3"/><rect x="788.5" y="595.8" width="7" height="71.2"/><rect x="798.5" y="608.8" width="7" height="58.2"/><rect x="820.5" y="598.9" width="7" height="68.1"/><rect x="830.5" y="591.6" width="7" height="75.4"/><rect x="841.5" y="594.7" width="7" height="72.3"/></g>
<g fill="#6a9a6c" stroke="#2e5733" stroke-width="1"><rect x="28.5" y="602.6" width="7" height="64.4"/><rect x="92.5" y="602.6" width="7" height="64.4"/><rect x="103.5" y="606.6" width="7" height="60.4"/><rect x="124.5" y="594.6" width="7" height="72.4"/><rect x="178.5" y="555.3" width="7" height="111.7"/><rect x="221.5" y="583.7" width="7" height="83.3"/><rect x="231.5" y="582.6" width="7" height="84.4"/><rect x="242.5" y="589.8" width="7" height="77.2"/><rect x="253.5" y="585.8" width="7" height="81.2"/><rect x="274.5" y="590.6" width="7" height="76.4"/><rect x="295.5" y="594.6" width="7" height="72.4"/><rect x="306.5" y="597.8" width="7" height="69.2"/><rect x="349.5" y="599.7" width="7" height="67.3"/><rect x="360.5" y="600.7" width="7" height="66.3"/><rect x="413.5" y="564.5" width="7" height="102.5"/><rect x="424.5" y="589.8" width="7" height="77.2"/><rect x="456.5" y="584.7" width="7" height="82.3"/><rect x="509.5" y="580.6" width="7" height="86.4"/><rect x="552.5" y="591.7" width="7" height="75.3"/><rect x="563.5" y="583.7" width="7" height="83.3"/><rect x="574.5" y="597.8" width="7" height="69.2"/><rect x="584.5" y="545.7" width="7" height="121.3"/><rect x="606.5" y="599.7" width="7" height="67.3"/><rect x="627.5" y="607.7" width="7" height="59.3"/><rect x="638.5" y="609.8" width="7" height="57.2"/><rect x="648.5" y="609.8" width="7" height="57.2"/><rect x="659.5" y="596.7" width="7" height="70.3"/><rect x="691.5" y="603.7" width="7" height="63.3"/><rect x="702.5" y="601.8" width="7" height="65.2"/><rect x="734.5" y="593.8" width="7" height="73.2"/><rect x="777.5" y="604.7" width="7" height="62.3"/><rect x="809.5" y="602.7" width="7" height="64.3"/></g>
</g>
<g clip-path="url(#crsi)">
<polygon fill="#88a9ac" points="163.0,755.2 171.5,759.3 182.2,757.3 192.9,760.5 203.6,760.5 214.3,762.6 219.5,755.2"/>
<path d="M16.5 709.5H853.5" stroke="#6b6e78" stroke-width="1.2"/>
<path d="M16.5 755.5H853.5" stroke="#6b6e78" stroke-width="1.2"/>
<path d="M16.5 732.5H853.5" stroke="#6b6e78" stroke-width="1" stroke-dasharray="8,3,2,3"/>
<polyline fill="none" stroke="#5e6589" stroke-width="1.25" stroke-linejoin="round" points="16.0,722.0 21.8,723.3 32.5,720.1 43.2,720.1 53.9,732.1 64.6,732.9 75.3,735.0 86.0,736.6 96.7,730.5 107.4,728.1 118.1,737.2 128.8,737.2 139.4,746.2 150.1,749.7 160.8,754.2 171.5,759.3 182.2,757.3 192.9,760.5 203.6,760.5 214.3,762.6 225.0,747.3 235.7,736.1 246.4,733.4 257.1,729.2 267.8,739.3 278.5,737.2 289.2,738.2 299.9,733.7 310.6,728.4 321.3,736.6 332.0,742.0 342.7,743.3 353.4,736.4 364.1,736.4 374.8,742.8 385.5,745.2 396.2,748.1 406.9,753.4 417.6,746.3 428.3,737.2 439.0,738.2 449.7,743.3 460.4,735.3 471.1,737.2 481.8,740.4 492.5,748.1 503.2,749.4 513.9,740.1 524.6,741.4 535.3,744.1 546.0,746.5 556.7,739.3 567.4,731.8 578.1,727.6 588.8,724.4 599.5,724.4 610.2,720.9 620.9,726.5 631.6,721.2 642.3,720.1 653.0,718.0 663.7,714.5 674.4,718.5 685.0,725.4 695.7,724.1 706.4,721.2 717.1,727.0 727.8,731.3 738.5,729.2 749.2,730.2 759.9,737.2 770.6,739.3 781.3,732.9 792.0,738.2 802.7,738.3 813.4,731.8 824.1,731.8 834.8,737.9 845.5,747.8"/>
</g>
<rect x="17" y="29" width="215" height="11.5" fill="#f8f9fc"/>
<rect x="17" y="158" width="85" height="33" fill="#f8f9fc"/>
<rect x="17" y="539" width="145" height="12.5" fill="#f8f9fc"/>
<rect x="17" y="668" width="96" height="12.5" fill="#f8f9fc"/>
<rect x="19" y="34.4" width="9" height="2" fill="#000"/>
<text x="31.7" y="38.8" font-family="Liberation Mono" font-size="9.8"><tspan fill="#000">PPO(12,26,9) -0.406,</tspan><tspan fill="#7e2044"> 0.074,</tspan><tspan fill="#6e9c8c"> -0.480</tspan></text>
<g stroke="#000" fill="none"><path d="M20.5 160v7.5M26.5 160v7.8M23.5 163v4.8" stroke-width="1"/><rect x="19.5" y="161.3" width="2" height="3.4" stroke-width="1.1"/><rect x="25.5" y="161.5" width="2" height="4.6" stroke-width="1.1"/></g><rect x="22" y="163" width="3.2" height="3.8" fill="#000"/><rect x="21.5" y="163" width="4" height="1.6" fill="#000"/>
<text x="31.4" y="168" font-family="Liberation Mono" font-size="9.85" fill="#000">$SPX (Daily) 4271.78</text>
<rect x="19" y="174" width="9" height="2" fill="#1c1c86"/>
<text x="29.8" y="178.8" font-family="Liberation Sans" font-size="9.6" fill="#141470">MA(50) 4406.55</text>
<rect x="19" y="185" width="9" height="2" fill="#2f5f2f"/>
<text x="29.8" y="189.8" font-family="Liberation Sans" font-size="9.5" fill="#1f5a1f">EMA(20) 4432.92</text>
<g fill="#6a9e6a" stroke="#1f4a24" stroke-width="0.9"><rect x="19.4" y="544.4" width="2.4" height="4.4"/><rect x="22.2" y="540.4" width="2.6" height="8.4"/><rect x="25.2" y="542.4" width="2.5" height="6.4"/></g>
<text x="31.6" y="549" font-family="Liberation Mono" font-size="10.5" fill="#000">Volume 2,513,802,752</text>
<path d="M19.4 677.8L19.6 675.3L21.5 672.5L23.5 669.9L25.5 673.5L26.6 674.2L27.6 671.1V677.8Z" fill="#a9c2cc" stroke="#34485a" stroke-width="1"/>
<text x="31.3" y="678" font-family="Liberation Mono" font-size="10.1" fill="#000">RSI(14) 36.92</text>
<rect x="16.5" y="28.5" width="837.0" height="496.0" fill="none" stroke="#5c606c" stroke-width="1"/>
<path d="M16.5 157.5H853.5" stroke="#5c606c" stroke-width="1"/>
<rect x="16.5" y="538.5" width="837.0" height="258.0" fill="none" stroke="#5c606c" stroke-width="1"/>
<path d="M16.5 667.5H853.5" stroke="#5c606c" stroke-width="1"/>
<rect x="150.0" y="256.4" width="42.8" height="210.89999999999998" fill="#ff0000" fill-opacity="0.3" stroke="#d85058" stroke-width="1.8" stroke-opacity="0.75"/>
<rect x="385.2" y="355.29999999999995" width="42.7" height="166.59999999999997" fill="#ff0000" fill-opacity="0.3" stroke="#d85058" stroke-width="1.8" stroke-opacity="0.75"/>
<rect x="599.3" y="292.4" width="42.7" height="64.30000000000003" fill="#93be78" fill-opacity="0.63" stroke="#80b86a" stroke-width="1.8" stroke-opacity="0.75"/>
<rect x="813.1999999999999" y="309.5" width="42.300000000000026" height="166.09999999999997" fill="#ff0000" fill-opacity="0.3" stroke="#d85058" stroke-width="1.8" stroke-opacity="0.75"/>
<path d="M853 45.5h4M853 62.5h4M853 80.5h4M853 99.5h4M853 117.5h4M853 135.5h4M853 153.5h4M853 173.5h4M853 177.5h2M853 182.5h2M853 187.5h2M853 192.5h2M853 197.5h4M853 201.5h2M853 206.5h2M853 210.5h2M853 215.5h2M853 220.5h4M853 224.5h2M853 229.5h2M853 234.5h2M853 239.5h2M853 244.5h4M853 248.5h2M853 253.5h2M853 258.5h2M853 263.5h2M853 268.5h4M853 272.5h2M853 277.5h2M853 282.5h2M853 287.5h2M853 293.5h4M853 297.5h2M853 302.5h2M853 307.5h2M853 312.5h2M853 317.5h4M853 321.5h2M853 326.5h2M853 331.5h2M853 336.5h2M853 342.5h4M853 347.5h2M853 352.5h2M853 357.5h2M853 362.5h2M853 368.5h4M853 372.5h2M853 377.5h2M853 382.5h2M853 387.5h2M853 393.5h4M853 398.5h2M853 403.5h2M853 408.5h2M853 413.5h2M853 419.5h4M853 424.5h2M853 429.5h2M853 434.5h2M853 439.5h2M853 445.5h4M853 450.5h2M853 455.5h2M853 461.5h2M853 466.5h2M853 472.5h4M853 477.5h2M853 482.5h2M853 487.5h2M853 492.5h2M853 498.5h4M853 552.5h4M853 566.5h4M853 580.5h4M853 594.5h4M853 609.5h4M853 623.5h4M853 638.5h4M853 652.5h4M853 674.5h2M853 686.5h4M853 697.5h2M853 709.5h4M853 720.5h2M853 732.5h4M853 743.5h2M853 755.5h4M853 766.5h2M853 778.5h4M853 789.5h2M21.5 524.5v2M21.5 536.5v2M21.5 796.5v2M32.5 524.5v2M32.5 536.5v2M32.5 796.5v2M43.5 524.5v2M43.5 536.5v2M43.5 796.5v2M53.5 524.5v2M53.5 536.5v2M53.5 796.5v2M64.5 524.5v2M64.5 536.5v2M64.5 796.5v2M75.5 524.5v2M75.5 536.5v2M75.5 796.5v2M85.5 524.5v2M85.5 536.5v2M85.5 796.5v2M96.5 524.5v2M96.5 536.5v2M96.5 796.5v2M107.5 524.5v2M107.5 536.5v2M107.5 796.5v2M118.5 524.5v2M118.5 536.5v2M118.5 796.5v2M128.5 524.5v2M128.5 536.5v2M128.5 796.5v2M139.5 524.5v2M139.5 536.5v2M139.5 796.5v2M150.5 524.5v2M150.5 536.5v2M150.5 796.5v2M160.5 524.5v2M160.5 536.5v2M160.5 796.5v2M171.5 524.5v2M171.5 536.5v2M171.5 796.5v2M182.5 524.5v2M182.5 536.5v2M182.5 796.5v2M192.5 524.5v2M192.5 536.5v2M192.5 796.5v2M203.5 524.5v2M203.5 536.5v2M203.5 796.5v2M214.5 524.5v2M214.5 536.5v2M214.5 796.5v2M225.5 524.5v2M225.5 536.5v2M225.5 796.5v2M235.5 524.5v2M235.5 536.5v2M235.5 796.5v2M246.5 524.5v2M246.5 536.5v2M246.5 796.5v2M257.5 524.5v2M257.5 536.5v2M257.5 796.5v2M267.5 524.5v2M267.5 536.5v2M267.5 796.5v2M278.5 524.5v2M278.5 536.5v2M278.5 796.5v2M289.5 524.5v2M289.5 536.5v2M289.5 796.5v2M299.5 524.5v2M299.5 536.5v2M299.5 796.5v2M310.5 524.5v2M310.5 536.5v2M310.5 796.5v2M321.5 524.5v2M321.5 536.5v2M321.5 796.5v2M332.5 524.5v2M332.5 536.5v2M332.5 796.5v2M342.5 524.5v2M342.5 536.5v2M342.5 796.5v2M353.5 524.5v2M353.5 536.5v2M353.5 796.5v2M364.5 524.5v2M364.5 536.5v2M364.5 796.5v2M374.5 524.5v2M374.5 536.5v2M374.5 796.5v2M385.5 524.5v2M385.5 536.5v2M385.5 796.5v2M396.5 524.5v2M396.5 536.5v2M396.5 796.5v2M406.5 524.5v2M406.5 536.5v2M406.5 796.5v2M417.5 524.5v2M417.5 536.5v2M417.5 796.5v2M428.5 524.5v2M428.5 536.5v2M428.5 796.5v2M438.5 524.5v2M438.5 536.5v2M438.5 796.5v2M449.5 524.5v2M449.5 536.5v2M449.5 796.5v2M460.5 524.5v2M460.5 536.5v2M460.5 796.5v2M471.5 524.5v2M471.5 536.5v2M471.5 796.5v2M481.5 524.5v2M481.5 536.5v2M481.5 796.5v2M492.5 524.5v2M492.5 536.5v2M492.5 796.5v2M503.5 524.5v2M503.5 536.5v2M503.5 796.5v2M513.5 524.5v2M513.5 536.5v2M513.5 796.5v2M524.5 524.5v2M524.5 536.5v2M524.5 796.5v2M535.5 524.5v2M535.5 536.5v2M535.5 796.5v2M545.5 524.5v2M545.5 536.5v2M545.5 796.5v2M556.5 524.5v2M556.5 536.5v2M556.5 796.5v2M567.5 524.5v2M567.5 536.5v2M567.5 796.5v2M578.5 524.5v2M578.5 536.5v2M578.5 796.5v2M588.5 524.5v2M588.5 536.5v2M588.5 796.5v2M599.5 524.5v2M599.5 536.5v2M599.5 796.5v2M610.5 524.5v2M610.5 536.5v2M610.5 796.5v2M620.5 524.5v2M620.5 536.5v2M620.5 796.5v2M631.5 524.5v2M631.5 536.5v2M631.5 796.5v2M642.5 524.5v2M642.5 536.5v2M642.5 796.5v2M652.5 524.5v2M652.5 536.5v2M652.5 796.5v2M663.5 524.5v2M663.5 536.5v2M663.5 796.5v2M674.5 524.5v2M674.5 536.5v2M674.5 796.5v2M685.5 524.5v2M685.5 536.5v2M685.5 796.5v2M695.5 524.5v2M695.5 536.5v2M695.5 796.5v2M706.5 524.5v2M706.5 536.5v2M706.5 796.5v2M717.5 524.5v2M717.5 536.5v2M717.5 796.5v2M727.5 524.5v2M727.5 536.5v2M727.5 796.5v2M738.5 524.5v2M738.5 536.5v2M738.5 796.5v2M749.5 524.5v2M749.5 536.5v2M749.5 796.5v2M759.5 524.5v2M759.5 536.5v2M759.5 796.5v2M770.5 524.5v2M770.5 536.5v2M770.5 796.5v2M781.5 524.5v2M781.5 536.5v2M781.5 796.5v2M792.5 524.5v2M792.5 536.5v2M792.5 796.5v2M802.5 524.5v2M802.5 536.5v2M802.5 796.5v2M813.5 524.5v2M813.5 536.5v2M813.5 796.5v2M824.5 524.5v2M824.5 536.5v2M824.5 796.5v2M834.5 524.5v2M834.5 536.5v2M834.5 796.5v2M845.5 524.5v2M845.5 536.5v2M845.5 796.5v2" stroke="#5c606c" stroke-width="1"/>
<g font-family="Liberation Sans" font-size="10" fill="#000"><text x="874.5" y="48.7" text-anchor="end">1.0</text><text x="874.5" y="66.6" text-anchor="end">0.5</text><text x="874.5" y="84.5" text-anchor="end">0.0</text><text x="874.5" y="102.5" text-anchor="end">-0.5</text><text x="874.5" y="120.4" text-anchor="end">-1.0</text><text x="874.5" y="138.4" text-anchor="end">-1.5</text><text x="874.5" y="156.3" text-anchor="end">-2.0</text><text x="857" y="501.6">4150</text><text x="857" y="474.9">4200</text><text x="857" y="448.5">4250</text><text x="857" y="422.4">4300</text><text x="857" y="396.6">4350</text><text x="857" y="371.1">4400</text><text x="857" y="345.9">4450</text><text x="857" y="321.0">4500</text><text x="857" y="296.3">4550</text><text x="857" y="271.9">4600</text><text x="857" y="247.8">4650</text><text x="857" y="224.0">4700</text><text x="857" y="200.4">4750</text><text x="857" y="177.0">4800</text><text x="883.3" y="656.2" text-anchor="end">500M</text><text x="883.3" y="641.9" text-anchor="end">1.0B</text><text x="883.3" y="627.6" text-anchor="end">1.5B</text><text x="883.3" y="613.2" text-anchor="end">2.0B</text><text x="883.3" y="598.9" text-anchor="end">2.5B</text><text x="883.3" y="584.6" text-anchor="end">3.0B</text><text x="883.3" y="570.3" text-anchor="end">3.5B</text><text x="883.3" y="556.0" text-anchor="end">4.0B</text><text x="868.3" y="781.9" text-anchor="end">10</text><text x="868.3" y="758.8" text-anchor="end">30</text><text x="868.3" y="735.8" text-anchor="end">50</text><text x="868.3" y="712.7" text-anchor="end">70</text><text x="868.3" y="689.6" text-anchor="end">90</text></g>
<g font-family="Liberation Sans" font-size="10" fill="#000"><text x="32.5" y="535.4" text-anchor="middle" font-weight="bold" font-size="10.8">2022</text><text x="85.5" y="535.4" text-anchor="middle">10</text><text x="139.5" y="535.4" text-anchor="middle">18</text><text x="182.5" y="535.4" text-anchor="middle">24</text><text x="246.5" y="535.4" text-anchor="middle" font-weight="bold" font-size="10.8">Feb</text><text x="289.5" y="535.4" text-anchor="middle">7</text><text x="342.5" y="535.4" text-anchor="middle">14</text><text x="396.5" y="535.4" text-anchor="middle">22</text><text x="449.5" y="535.4" text-anchor="middle" font-weight="bold" font-size="10.8">Mar</text><text x="492.5" y="535.4" text-anchor="middle">7</text><text x="545.5" y="535.4" text-anchor="middle">14</text><text x="599.5" y="535.4" text-anchor="middle">21</text><text x="652.5" y="535.4" text-anchor="middle">28</text><text x="696.0" y="535.4" text-anchor="middle" font-weight="bold" font-size="10.8">Apr</text><text x="707.0" y="535.4" text-anchor="middle">4</text><text x="759.5" y="535.4" text-anchor="middle">11</text><text x="802.5" y="535.4" text-anchor="middle">18</text><text x="32.5" y="806.2" text-anchor="middle" font-weight="bold" font-size="10.8">2022</text><text x="85.5" y="806.2" text-anchor="middle">10</text><text x="139.5" y="806.2" text-anchor="middle">18</text><text x="182.5" y="806.2" text-anchor="middle">24</text><text x="246.5" y="806.2" text-anchor="middle" font-weight="bold" font-size="10.8">Feb</text><text x="289.5" y="806.2" text-anchor="middle">7</text><text x="342.5" y="806.2" text-anchor="middle">14</text><text x="396.5" y="806.2" text-anchor="middle">22</text><text x="449.5" y="806.2" text-anchor="middle" font-weight="bold" font-size="10.8">Mar</text><text x="492.5" y="806.2" text-anchor="middle">7</text><text x="545.5" y="806.2" text-anchor="middle">14</text><text x="599.5" y="806.2" text-anchor="middle">21</text><text x="652.5" y="806.2" text-anchor="middle">28</text><text x="696.0" y="806.2" text-anchor="middle" font-weight="bold" font-size="10.8">Apr</text><text x="707.0" y="806.2" text-anchor="middle">4</text><text x="759.5" y="806.2" text-anchor="middle">11</text><text x="802.5" y="806.2" text-anchor="middle">18</text></g>
<text x="16.2" y="13.5" font-family="Liberation Sans" font-weight="bold" font-size="13">$SPX</text>
<text x="52.4" y="13.5" font-family="Liberation Sans" font-size="10.6">S&amp;P 500 Large Cap Index</text>
<text x="181.4" y="13.5" font-family="Liberation Sans" font-size="9.6">INDX</text>
<text x="16.3" y="26.2" font-family="Liberation Sans" font-size="10">22-Apr-2022</text>
<g font-family="Liberation Sans" fill="#000"><text x="365.0" y="25.6" font-weight="bold" font-size="11">Open</text><text x="397.2" y="25.6" font-size="10.6">4385.83</text><text x="441.8" y="25.6" font-weight="bold" font-size="11">High</text><text x="468.8" y="25.6" font-size="10.6">4385.83</text><text x="513.8" y="25.6" font-weight="bold" font-size="11">Low</text><text x="541.0" y="25.6" font-size="10.6">4267.62</text><text x="586.2" y="25.6" font-weight="bold" font-size="11">Close</text><text x="620.4" y="25.6" font-size="10.6">4271.78</text><text x="666.5" y="25.6" font-weight="bold" font-size="11">Volume</text><text x="711.6" y="25.6" font-size="10.6">2.5B</text><text x="740.2" y="25.6" font-weight="bold" font-size="11">Chg</text><text x="765.0" y="25.6" font-size="10.6">-121.88 (-2.77%)</text></g>
<path d="M846 19.5h6.5l-3.25 4z" fill="#3a4a8a"/>
<text x="764.2" y="12.2" font-family="Liberation Sans" font-size="10.4" fill="#505560">© StockCharts.com</text>
</svg>
</body></html>
